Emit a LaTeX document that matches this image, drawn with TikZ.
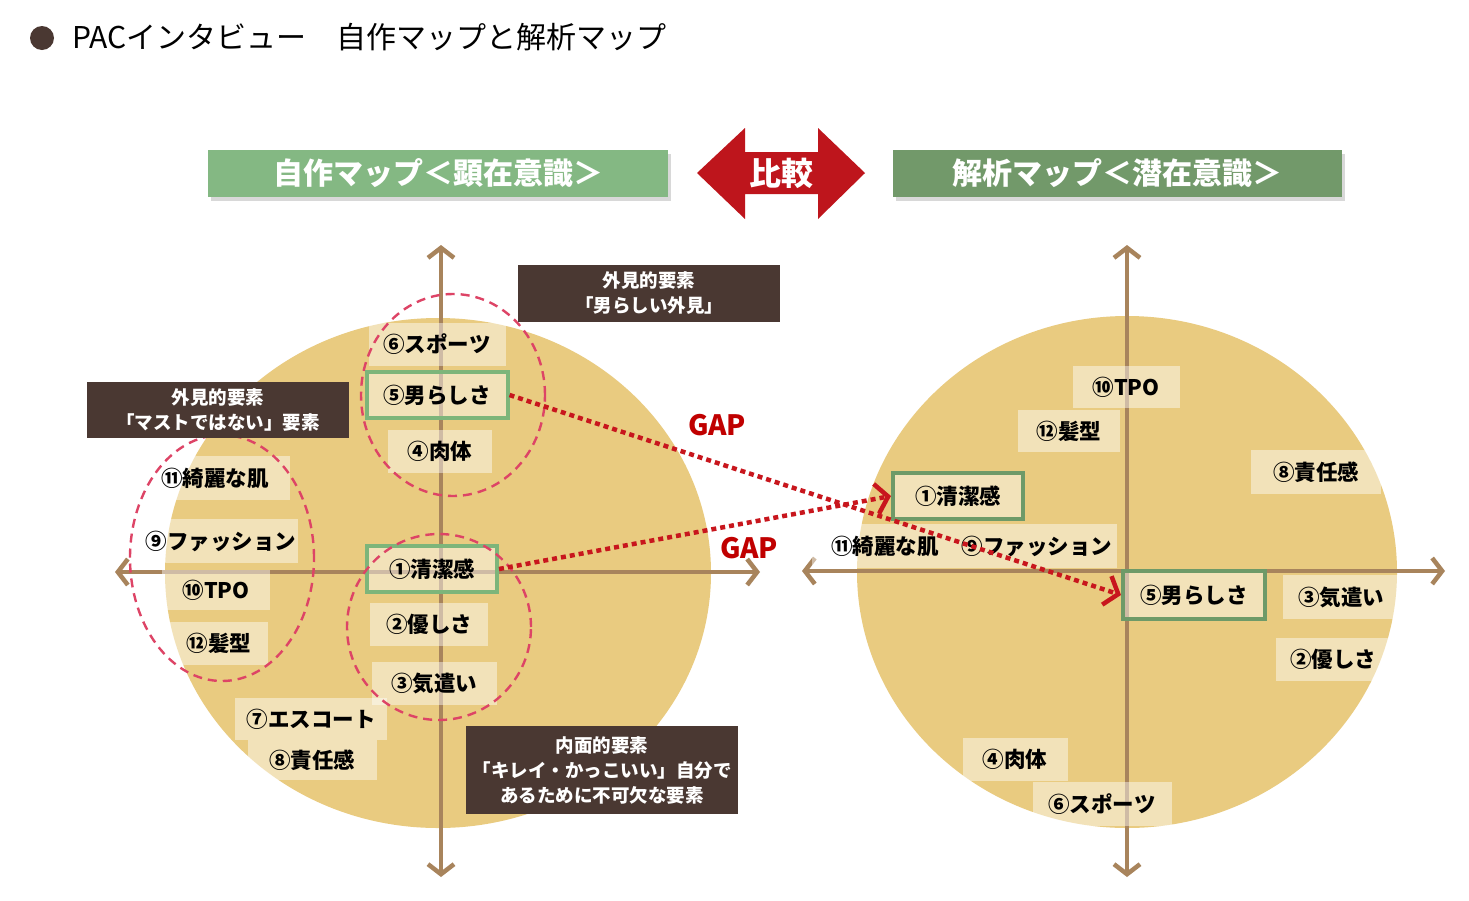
\documentclass[tikz,border=0pt]{standalone}
\usepackage{fontspec}
\setmainfont{Noto Sans CJK JP}
\usetikzlibrary{arrows.meta,shadows}
\definecolor{diskfill}{HTML}{E9CB80}
\definecolor{axisbrown}{HTML}{A8845C}
\definecolor{darkbrown}{HTML}{4A3832}
\definecolor{leftgreen}{HTML}{84B883}
\definecolor{rightgreen}{HTML}{72996A}
\definecolor{hitleft}{HTML}{7DB57A}
\definecolor{hitright}{HTML}{6E9A68}
\definecolor{gapred}{HTML}{C8161D}
\definecolor{gaptext}{HTML}{C00000}
\definecolor{ringpink}{HTML}{DD4466}
\newcommand{\jpsize}[2]{\fontsize{#1}{#2}\selectfont}

\begin{document}
\begin{tikzpicture}[x=1pt, y=-1pt,
  lbl/.style={fill=white, fill opacity=0.45, text opacity=1, font=\jpsize{21.5}{25}\bfseries, inner sep=0pt, minimum height=43pt},
  hitbox/.style={lbl, draw=hitleft, line width=4pt, minimum height=46pt},
  hitboxR/.style={hitbox, draw=hitright},
  notebox/.style={fill=darkbrown, text=white, font=\jpsize{18.5}{25}\bfseries, align=center, inner sep=0pt, minimum width=262pt},
  headbox/.style={text=white, font=\jpsize{30}{36}\bfseries, inner sep=0pt, minimum height=47pt, drop shadow={shadow xshift=3pt, shadow yshift=-4pt, opacity=0.3}},
  axisline/.style={draw=axisbrown, line width=4.5pt, {Straight Barb[length=10pt,width=26pt]}-{Straight Barb[length=10pt,width=26pt]}},
  ringline/.style={draw=ringpink, line width=2.4pt, dash pattern=on 9pt off 6pt},
  gaparrow/.style={draw=gapred, line width=4.5pt, dash pattern=on 5pt off 4pt, -{Straight Barb[length=12pt,width=30pt]}},
  gaptxt/.style={text=gaptext, font=\jpsize{28}{30}\bfseries, inner sep=0pt}]
\useasboundingbox (0,0) rectangle (1469,900);
\fill[white] (0,0) rectangle (1469,900);

% title
\fill[darkbrown] (42,38) circle (12pt);
\node[anchor=west, inner sep=0pt, font=\jpsize{30}{36}] (title) at (72,37) {PACインタビュー　自作マップと解析マップ};

% headers
\node[headbox, fill=leftgreen, minimum width=460pt] (hl) at (438,173) {自作マップ＜顕在意識＞};
\node[headbox, fill=rightgreen, minimum width=449pt] (hr) at (1117,173) {解析マップ＜潜在意識＞};
\fill[gapred!95!black] (697,173) -- (745,128) -- (745,152) -- (818,152) -- (818,128) -- (865,173) -- (818,219) -- (818,194) -- (745,194) -- (745,219) -- cycle;
\node[text=white, font=\jpsize{32}{36}\bfseries] (cmp) at (781,173) {比較};

% disks and axes
\fill[diskfill] (438,573) ellipse [x radius=273pt, y radius=255pt];
\fill[diskfill] (1127,572) ellipse [x radius=270pt, y radius=256pt];
\coordinate (lW) at (115,572); \coordinate (lE) at (760,572);
\coordinate (lN) at (441,245); \coordinate (lS) at (441,877);
\coordinate (rW) at (802,571); \coordinate (rE) at (1445,571);
\coordinate (rN) at (1127,245); \coordinate (rS) at (1127,877);
\draw[axisline] (lW) -- (lE); \draw[axisline] (lN) -- (lS);
\draw[axisline] (rW) -- (rE); \draw[axisline] (rN) -- (rS);

% left map
\node[lbl, minimum width=137pt] (l6) at (437,344) {⑥スポーツ};
\node[hitbox, minimum width=141pt] (l5) at (437,395) {⑤男らしさ};
\node[lbl, minimum width=104pt] (l4) at (440,451) {④肉体};
\node[lbl, minimum width=150pt, minimum height=44pt] (l11) at (215,478) {⑪綺麗な肌};
\node[lbl, minimum width=153pt, minimum height=44pt] (l9) at (221,541) {⑨ファッション};
\node[lbl, minimum width=108pt, minimum height=40pt] (l10) at (216,590) {⑩TPO};
\node[lbl, minimum width=98pt] (l12) at (219,643) {⑫髪型};
\node[hitbox, minimum width=130pt] (l1) at (432,569) {①清潔感};
\node[lbl, minimum width=118pt] (l2) at (429,624) {②優しさ};
\node[lbl, minimum width=125pt] (l3) at (434,683) {③気遣い};
\node[lbl, minimum width=152pt, minimum height=42pt] (l7) at (311,719) {⑦エスコート};
\node[lbl, minimum width=129pt, minimum height=40pt] (l8) at (312,760) {⑧責任感};
\draw[ringline] (453,395) ellipse [x radius=92pt, y radius=101pt];
\draw[ringline] (439,627) ellipse [x radius=92pt, y radius=93pt];
\draw[ringline] (222,558) ellipse [x radius=92pt, y radius=123pt];

% right map
\node[lbl, minimum width=107pt, minimum height=42pt] (r10) at (1126,387) {⑩TPO};
\node[lbl, minimum width=102pt, minimum height=42pt] (r12) at (1069,431) {⑫髪型};
\node[lbl, minimum width=130pt, minimum height=44pt] (r8) at (1316,472) {⑧責任感};
\node[hitboxR, minimum width=130pt] (r1) at (958,496) {①清潔感};
\node[lbl, minimum width=146pt, minimum height=44pt] (r11) at (885,546) {⑪綺麗な肌};
\node[lbl, minimum width=159pt, minimum height=44pt] (r9) at (1037,546) {⑨ファッション};
\node[hitboxR, minimum width=142pt, minimum height=48pt] (r5) at (1194,595) {⑤男らしさ};
\node[lbl, minimum width=116pt, minimum height=44pt] (r3) at (1341,597) {③気遣い};
\node[lbl, minimum width=115pt] (r2) at (1333,659) {②優しさ};
\node[lbl, minimum width=105pt] (r4) at (1015,759) {④肉体};
\node[lbl, minimum width=139pt, minimum height=44pt] (r6) at (1102,804) {⑥スポーツ};

% notes
\node[notebox, minimum height=57pt] (n1) at (649,293) {外見的要素\\「男らしい外見」};
\node[notebox, minimum height=56pt] (n2) at (218,410) {外見的要素\\「マストではない」要素};
\node[notebox, minimum width=272pt, minimum height=88pt] (n3) at (602,770) {内面的要素\\「キレイ・かっこいい」自分で\\あるために不可欠な要素};

% gaps
\node[gaptxt] (g1) at (717,425) {GAP};
\node[gaptxt] (g2) at (749,548) {GAP};
\draw[gaparrow] (l5.east) -- (r5.west);
\draw[gaparrow] (l1.east) -- (r1.west);
\end{tikzpicture}
\end{document}
